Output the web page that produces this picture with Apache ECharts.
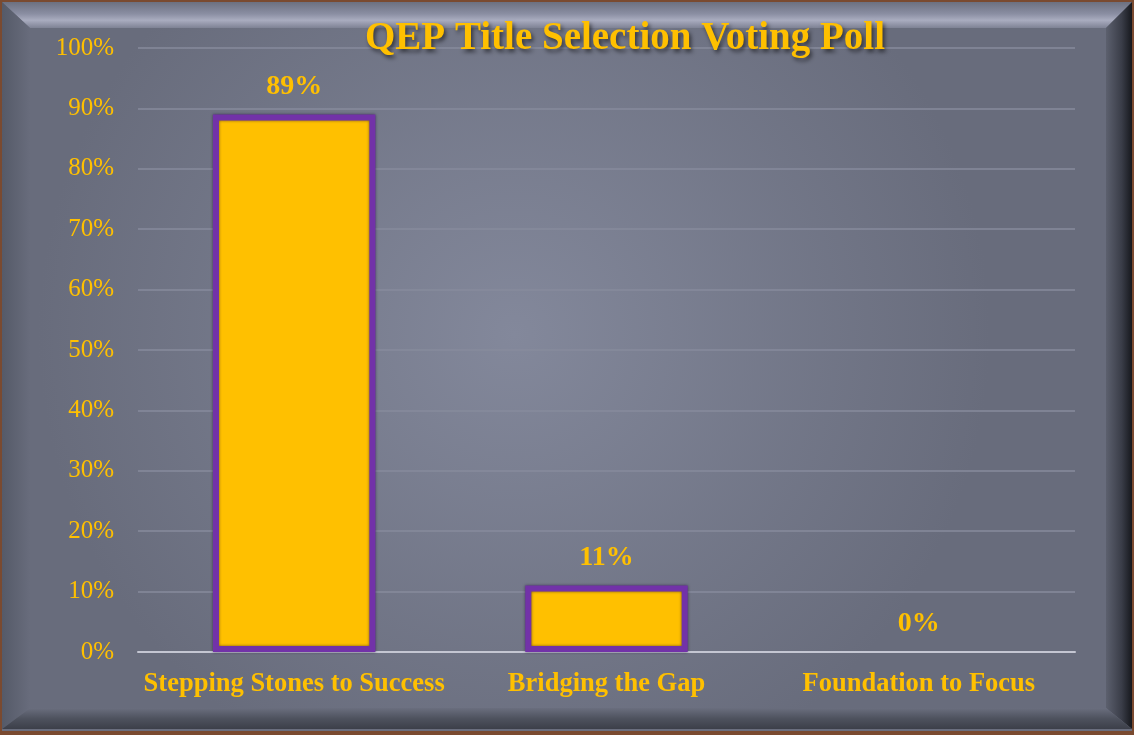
<!DOCTYPE html>
<html><head><meta charset="utf-8">
<script src="https://cdn.jsdelivr.net/npm/echarts@6/dist/echarts.min.js"></script>
<style>html,body{margin:0;padding:0;background:#7a4a30;}#c{width:1134px;height:735px;}</style>
</head><body><div id="c"></div>
<script>
const titleText = 'QEP Title Selection Voting Poll';
const categories = ['Stepping Stones to Success', 'Bridging the Gap', 'Foundation to Focus'];
const votes = [89, 11, 0];
const yTicks = [0, 10, 20, 30, 40, 50, 60, 70, 80, 90, 100];

const W = 1134, H = 735;
const gold = '#ffc000';
const chart = echarts.init(document.getElementById('c'), null, {renderer: 'canvas'});
const o = 2, ix0 = 30, iy0 = 28, ix1 = 1106, iy1 = 708;
chart.setOption({
  backgroundColor: '#7a4a30',
  graphic: [
    {type: 'rect', z: -10, silent: true, shape: {x: o, y: o, width: W - 2*o, height: H - 6},
      style: {fill: '#6a6e7e'}},
    {type: 'polygon', z: -9, silent: true, shape: {points: [[o, o], [W - o, o], [ix1, iy0], [ix0, iy0]]},
      style: {fill: new echarts.graphic.LinearGradient(0, 0, 0, 1, [
        {offset: 0, color: '#6c7080'}, {offset: 0.45, color: '#8a8ea2'}, {offset: 0.7, color: '#a9acbf'}, {offset: 1, color: '#7e8294'}])}},
    {type: 'polygon', z: -9, silent: true, shape: {points: [[o, o], [ix0, iy0], [ix0, iy1], [o, H - 6]]},
      style: {fill: new echarts.graphic.LinearGradient(0, 0, 1, 0, [
        {offset: 0, color: '#555a68'}, {offset: 1, color: '#686c7c'}])}},
    {type: 'polygon', z: -9, silent: true, shape: {points: [[W - o, o], [W - o, H - 6], [ix1, iy1], [ix1, iy0]]},
      style: {fill: new echarts.graphic.LinearGradient(0, 0, 1, 0, [
        {offset: 0, color: '#5c606e'}, {offset: 0.6, color: '#3a3d48'}, {offset: 1, color: '#16181d'}])}},
    {type: 'polygon', z: -9, silent: true, shape: {points: [[o, H - 6], [ix0, iy1], [ix1, iy1], [W - o, H - 6]]},
      style: {fill: new echarts.graphic.LinearGradient(0, 0, 0, 1, [
        {offset: 0, color: '#6a6e7e'}, {offset: 0.5, color: '#4e525e'}, {offset: 1, color: '#3c3f49'}])}},
    {type: 'rect', z: -8, silent: true, shape: {x: ix0, y: iy0, width: ix1 - ix0, height: iy1 - iy0},
      style: {fill: new echarts.graphic.RadialGradient(0.45, 0.45, 0.7, [
        {offset: 0, color: '#83889b'}, {offset: 1, color: '#686c7c'}])}}
  ],
  title: {
    text: titleText, left: 360, top: 14,
    textStyle: {color: gold, fontFamily: 'Liberation Serif', fontWeight: 'bold', fontSize: 39,
      textShadowColor: 'rgba(0,0,0,0.55)', textShadowBlur: 4, textShadowOffsetX: 2, textShadowOffsetY: 3}
  },
  grid: {left: 138, right: 59, top: 48, bottom: 83, containLabel: false},
  xAxis: {
    type: 'category', data: categories,
    axisLine: {lineStyle: {color: '#c4c6d2', width: 2}},
    axisTick: {show: false},
    axisLabel: {interval: 0, color: gold, fontFamily: 'Liberation Serif', fontWeight: 'bold', fontSize: 26.5, margin: 19}
  },
  yAxis: {
    type: 'value', min: 0, max: 100, interval: 10,
    axisLine: {show: false}, axisTick: {show: false},
    splitLine: {lineStyle: {color: '#878b9c', width: 1.5}},
    axisLabel: {color: gold, fontFamily: 'Liberation Serif', fontSize: 25, margin: 24,
      formatter: v => yTicks.includes(v) ? v + '%' : ''}
  },
  series: [{
    type: 'bar', barWidth: '52%',
    data: votes.map(v => ({value: v, itemStyle: v === 0 ? {borderWidth: 0, shadowBlur: 0} : {}})),
    itemStyle: {color: gold, borderColor: '#7232a8', borderWidth: 6,
      shadowColor: 'rgba(20,10,40,0.6)', shadowBlur: 3, shadowOffsetX: 0, shadowOffsetY: 0},
    label: {show: true, position: 'top', distance: 14, formatter: p => p.value + '%',
      color: gold, fontFamily: 'Liberation Serif', fontWeight: 'bold', fontSize: 28},
    animation: false
  }],
  animation: false
});
</script></body></html>
